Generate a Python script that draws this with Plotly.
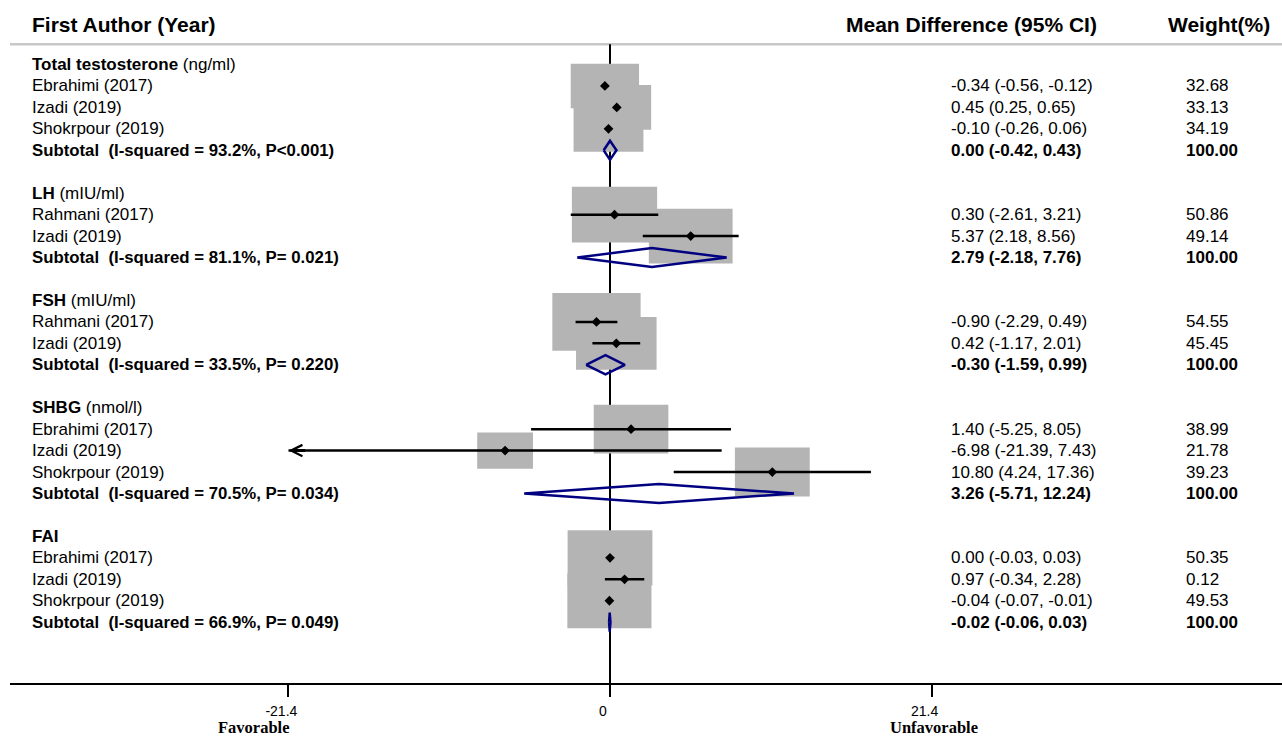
import math
import plotly.graph_objects as go

# ---------------- data ----------------
group_names = ["Total testosterone", "LH", "FSH", "SHBG", "FAI"]
group_units = ["(ng/ml)", "(mIU/ml)", "(mIU/ml)", "(nmol/l)", ""]

study_group = [0, 0, 0, 1, 1, 2, 2, 3, 3, 3, 4, 4, 4]
study_names = ["Ebrahimi (2017)", "Izadi (2019)", "Shokrpour (2019)",
               "Rahmani (2017)", "Izadi (2019)",
               "Rahmani (2017)", "Izadi (2019)",
               "Ebrahimi (2017)", "Izadi (2019)", "Shokrpour (2019)",
               "Ebrahimi (2017)", "Izadi (2019)", "Shokrpour (2019)"]
study_md = [-0.34, 0.45, -0.10, 0.30, 5.37, -0.90, 0.42, 1.40, -6.98, 10.80, 0.00, 0.97, -0.04]
study_lo = [-0.56, 0.25, -0.26, -2.61, 2.18, -2.29, -1.17, -5.25, -21.39, 4.24, -0.03, -0.34, -0.07]
study_hi = [-0.12, 0.65, 0.06, 3.21, 8.56, 0.49, 2.01, 8.05, 7.43, 17.36, 0.03, 2.28, -0.01]
study_wt = [32.68, 33.13, 34.19, 50.86, 49.14, 54.55, 45.45, 38.99, 21.78, 39.23, 50.35, 0.12, 49.53]

sub_md = [0.00, 2.79, -0.30, 3.26, -0.02]
sub_lo = [-0.42, -2.18, -1.59, -5.71, -0.06]
sub_hi = [0.43, 7.76, 0.99, 12.24, 0.03]
sub_i2 = ["93.2%", "81.1%", "33.5%", "70.5%", "66.9%"]
sub_p = ["P&lt;0.001", "P= 0.021", "P= 0.220", "P= 0.034", "P= 0.049"]
sub_wt = [100.00, 100.00, 100.00, 100.00, 100.00]

tick_vals = [-21.4, 0, 21.4]
tick_text = ["-21.4", "0", "21.4"]
axis_min = -21.4
left_label = "Favorable"
right_label = "Unfavorable"

# ---------------- layout geometry ----------------
W, H = 1282, 736
ML, MR, MT, MB = 10, 0, 0, 53
X0PX = 610.0      # pixel of zero
PXU = 15.03       # pixels per unit
ROW0 = 64.5       # pixel of first row
ROWH = 21.45      # pixels per row

xr = [(ML - X0PX) / PXU, (W - MR - X0PX) / PXU]
ybot = (H - MB - ROW0) / ROWH
ytop = (MT - ROW0) / ROWH
header_row = (44.3 - ROW0) / ROWH
title_row = (24.0 - ROW0) / ROWH


def px2paper(px):
    return (px - ML) / (W - ML - MR)


def fmt(v):
    s = f"{v:.2f}"
    return "0.00" if s == "-0.00" else s


FONT = "Liberation Sans, Arial, sans-serif"
SERIF = "Liberation Serif, Times New Roman, serif"
BLACK = "#000000"
NAVY = "#000080"
GRAY = "#b4b4b4"
TXT = 17

# ---------------- row assignment ----------------
study_row = []
sub_row = []
title_rows = []
r = 0
for g in range(len(group_names)):
    title_rows.append(r)
    r += 1
    for i, sg in enumerate(study_group):
        if sg == g:
            study_row.append((i, r))
            r += 1
    sub_row.append(r)
    r += 2
row_of_study = dict(study_row)

fig = go.Figure()
shapes = []
annotations = []

# zero line
shapes.append(dict(type="line", xref="x", yref="y", x0=0, x1=0, y0=header_row, y1=ybot,
                   line=dict(color=BLACK, width=2), layer="below"))
# header separator
shapes.append(dict(type="line", xref="paper", yref="y", x0=0, x1=1, y0=header_row, y1=header_row,
                   line=dict(color="#c8c8c8", width=2.5), layer="below"))

# weight boxes
for i in range(len(study_md)):
    rr = row_of_study[i]
    hw = 5.975 * math.sqrt(study_wt[i]) / PXU
    hh = 3.9 * math.sqrt(study_wt[i]) / ROWH
    shapes.append(dict(type="rect", xref="x", yref="y",
                       x0=study_md[i] - hw, x1=study_md[i] + hw,
                       y0=rr - hh, y1=rr + hh,
                       fillcolor=GRAY, line=dict(width=0), layer="below"))

# CI lines
cx, cy = [], []
for i in range(len(study_md)):
    rr = row_of_study[i]
    cx += [study_lo[i], study_hi[i], None]
    cy += [rr, rr, None]
fig.add_trace(go.Scatter(x=cx, y=cy, mode="lines", line=dict(color=BLACK, width=2.5),
                         hoverinfo="skip", showlegend=False))

# point estimates
fig.add_trace(go.Scatter(x=study_md, y=[row_of_study[i] for i in range(len(study_md))],
                         mode="markers",
                         marker=dict(symbol="diamond", size=7.5, color=BLACK, line=dict(width=0)),
                         hoverinfo="skip", showlegend=False))

# pooled diamonds
dx, dy = [], []
DH = 0.445
for g in range(len(sub_md)):
    rr = sub_row[g]
    dx += [sub_lo[g], sub_md[g], sub_hi[g], sub_md[g], sub_lo[g], None]
    dy += [rr, rr - DH, rr, rr + DH, rr, None]
fig.add_trace(go.Scatter(x=dx, y=dy, mode="lines", line=dict(color=NAVY, width=2.5),
                         hoverinfo="skip", showlegend=False))

# arrow for truncated CI
for i in range(len(study_md)):
    if study_lo[i] <= axis_min + 0.05:
        rr = row_of_study[i]
        annotations.append(dict(x=study_lo[i], y=rr, xref="x", yref="y",
                                ax=study_lo[i] + 1.2, ay=rr, axref="x", ayref="y",
                                text="", showarrow=True, arrowhead=5, arrowsize=0.75,
                                arrowwidth=3, arrowcolor=BLACK, standoff=0))

# column texts
XL = px2paper(30)
XCI = px2paper(949)
XW = px2paper(1184)


def add_text(x, y, text, size=TXT, anchor="left"):
    annotations.append(dict(x=x, y=y, xref="paper", yref="y", text=text, showarrow=False,
                            xanchor=anchor, yanchor="middle",
                            font=dict(family=FONT, size=size, color=BLACK)))


add_text(XL, title_row, "<b>First Author (Year)</b>", size=21)
add_text(px2paper(844), title_row, "<b>Mean Difference (95% CI)</b>", size=21)
add_text(px2paper(1166), title_row, "<b>Weight(%)</b>", size=21)

for g in range(len(group_names)):
    t = f"<b>{group_names[g]}</b>"
    if group_units[g]:
        t += " " + group_units[g]
    add_text(XL, title_rows[g], t)
    add_text(XL, sub_row[g],
             f"<b>Subtotal\u00a0 (I-squared = {sub_i2[g]}, {sub_p[g]})</b>", size=16.8)
    add_text(XCI, sub_row[g], f"<b>{fmt(sub_md[g])} ({fmt(sub_lo[g])}, {fmt(sub_hi[g])})</b>")
    add_text(XW, sub_row[g], f"<b>{sub_wt[g]:.2f}</b>")

for i in range(len(study_md)):
    rr = row_of_study[i]
    add_text(XL, rr, study_names[i])
    add_text(XCI, rr, f"{fmt(study_md[i])} ({fmt(study_lo[i])}, {fmt(study_hi[i])})")
    add_text(XW, rr, f"{study_wt[i]:.2f}")

# favorable / unfavorable labels
lab_y = (H - MB - 727.5) / (H - MT - MB)
annotations.append(dict(x=tick_vals[0], y=lab_y, xref="x", yref="paper", text=f"<b>{left_label}</b>",
                        showarrow=False, xanchor="right", yanchor="middle", xshift=4,
                        font=dict(family=SERIF, size=16.5, color=BLACK)))
annotations.append(dict(x=tick_vals[-1], y=lab_y, xref="x", yref="paper", text=f"<b>{right_label}</b>",
                        showarrow=False, xanchor="center", yanchor="middle", xshift=2,
                        font=dict(family=SERIF, size=16.5, color=BLACK)))

fig.update_layout(
    template="none",
    width=W, height=H,
    margin=dict(l=ML, r=MR, t=MT, b=MB, pad=0),
    paper_bgcolor="white", plot_bgcolor="white",
    showlegend=False,
    shapes=shapes,
    annotations=annotations,
    xaxis=dict(range=xr, fixedrange=True, showgrid=False, zeroline=False,
               showline=True, linecolor=BLACK, linewidth=2,
               ticks="outside", ticklen=12, tickwidth=1.5, tickcolor=BLACK,
               tickvals=tick_vals, ticktext=tick_text, ticklabelshift=-7,
               ticklabelstandoff=2,
               tickfont=dict(family=FONT, size=14, color=BLACK), automargin=False),
    yaxis=dict(range=[ybot, ytop], fixedrange=True, showgrid=False, zeroline=False,
               showline=False, showticklabels=False, ticks="", automargin=False),
)

fig.write_html("out.html", config={"displayModeBar": False},
               post_script="document.body.style.margin='0';document.body.style.overflow='hidden';")
